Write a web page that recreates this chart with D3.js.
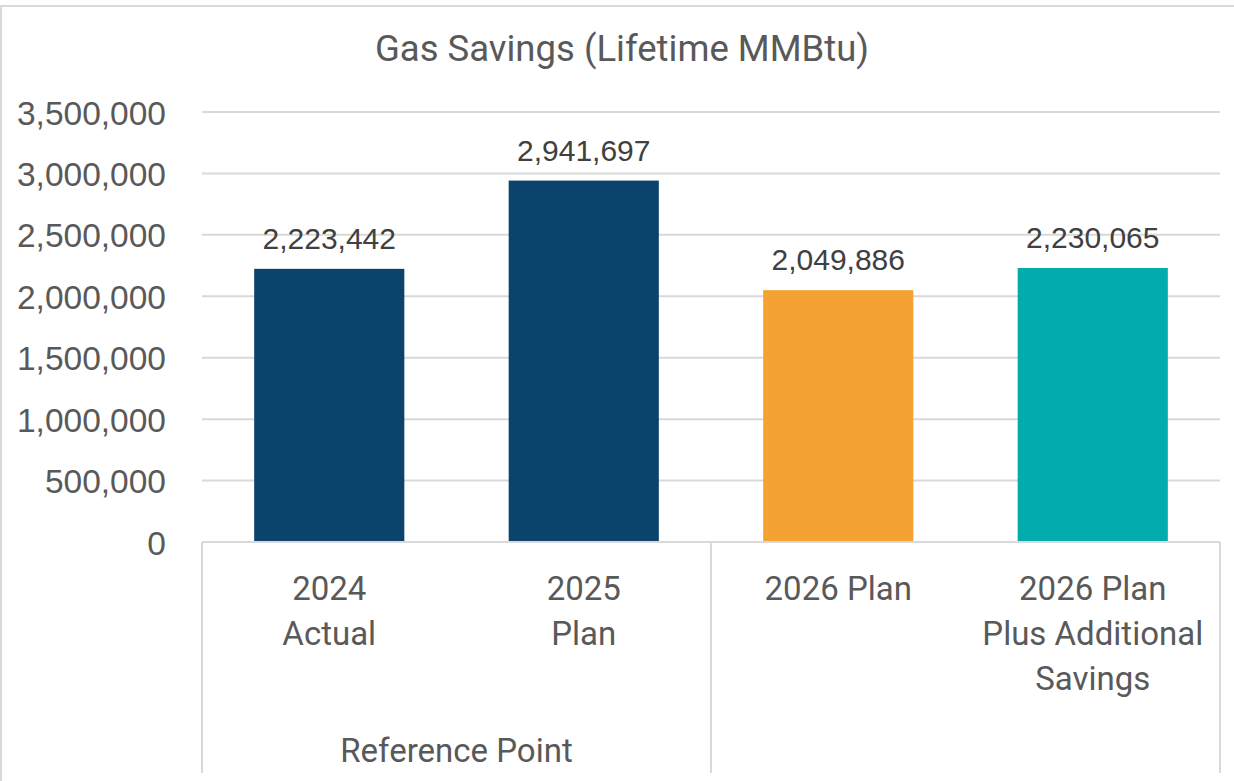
<!DOCTYPE html>
<html>
<head>
<meta charset="utf-8">
<script src="https://cdn.jsdelivr.net/npm/d3@7"></script>
<style>
  html, body { margin: 0; padding: 0; background: #fff; }
  svg { display: block; }
</style>
</head>
<body>
<script>
// chart data
var categories = ["2024 Actual", "2025 Plan", "2026 Plan", "2026 Plan Plus Additional Savings"];
var categoryLines = [["2024", "Actual"], ["2025", "Plan"], ["2026 Plan"], ["2026 Plan", "Plus Additional", "Savings"]];
var values = [2223442, 2941697, 2049886, 2230065];
var barColors = ["#0C436C", "#0C436C", "#F4A233", "#02ACAE"];
var groups = [
  { name: "Reference Point", members: ["2024 Actual", "2025 Plan"] },
  { name: "", members: ["2026 Plan", "2026 Plan Plus Additional Savings"] }
];
var yTicks = [0, 500000, 1000000, 1500000, 2000000, 2500000, 3000000, 3500000];
var title = "Gas Savings (Lifetime MMBtu)";

var width = 1234, height = 781;
var plot = { left: 202, right: 1220, top: 112, bottom: 542 };
var textColor = "#595959", gridColor = "#D9D9D9";
var numFont = "'Liberation Sans', Arial, sans-serif";
var catFont = "Roboto, 'Open Sans', sans-serif";

var svg = d3.select("body").append("svg")
    .attr("width", width)
    .attr("height", height);

// chart area border
svg.append("rect")
    .attr("x", 1).attr("y", 6)
    .attr("width", width + 10).attr("height", height + 10)
    .attr("fill", "#fff")
    .attr("stroke", gridColor)
    .attr("stroke-width", 2);

var x = d3.scaleBand()
    .domain(categories)
    .range([plot.left, plot.right])
    .paddingInner(0.41)
    .paddingOuter(0.205);

var y = d3.scaleLinear()
    .domain([0, 3500000])
    .range([plot.bottom, plot.top]);

// title
svg.append("text")
    .attr("x", 622).attr("y", 61)
    .attr("text-anchor", "middle")
    .attr("font-family", catFont)
    .attr("font-size", 36.5)
    .attr("fill", textColor)
    .text(title);

// gridlines
svg.append("g")
    .selectAll("line")
    .data(yTicks.slice(1))
    .enter().append("line")
    .attr("x1", plot.left).attr("x2", plot.right)
    .attr("y1", function(d) { return y(d); })
    .attr("y2", function(d) { return y(d); })
    .attr("stroke", gridColor)
    .attr("stroke-width", 2);

// y axis labels
var yAxis = d3.axisLeft(y).tickValues(yTicks).tickFormat(d3.format(",")).tickSize(0).tickPadding(36);
var yg = svg.append("g")
    .attr("transform", "translate(" + plot.left + ",0)")
    .call(yAxis);
yg.select(".domain").remove();
yg.selectAll("text")
    .attr("font-family", numFont)
    .attr("font-size", 33.5)
    .attr("fill", textColor)
    .attr("dy", "0.36em");

// bars
svg.append("g")
    .selectAll("rect")
    .data(values)
    .enter().append("rect")
    .attr("x", function(d, i) { return x(categories[i]); })
    .attr("y", function(d) { return y(d); })
    .attr("width", x.bandwidth())
    .attr("height", function(d) { return y(0) - y(d); })
    .attr("fill", function(d, i) { return barColors[i]; });

// data labels
svg.append("g")
    .selectAll("text")
    .data(values)
    .enter().append("text")
    .attr("x", function(d, i) { return x(categories[i]) + x.bandwidth() / 2; })
    .attr("y", function(d) { return y(d) - 20; })
    .attr("text-anchor", "middle")
    .attr("font-family", numFont)
    .attr("font-size", 30)
    .attr("fill", "#404040")
    .text(function(d) { return d3.format(",")(d); });

// category axis (two levels)
var axisBottom = 773;
var step = x.step();
var catAxis = svg.append("g");

catAxis.append("line")
    .attr("x1", plot.left).attr("x2", plot.right)
    .attr("y1", plot.bottom).attr("y2", plot.bottom)
    .attr("stroke", gridColor).attr("stroke-width", 2);

// group dividers
var dividers = [plot.left];
groups.forEach(function(g) {
  var last = g.members[g.members.length - 1];
  dividers.push(x(last) + x.bandwidth() + step * x.paddingInner() / 2);
});
catAxis.selectAll("line.div")
    .data(dividers)
    .enter().append("line")
    .attr("class", "div")
    .attr("x1", function(d) { return d; })
    .attr("x2", function(d) { return d; })
    .attr("y1", plot.bottom).attr("y2", axisBottom)
    .attr("stroke", gridColor).attr("stroke-width", 2);

// inner level labels
catAxis.selectAll("text.cat")
    .data(categories)
    .enter().append("text")
    .attr("class", "cat")
    .attr("text-anchor", "middle")
    .attr("font-family", catFont)
    .attr("font-size", 33)
    .attr("fill", textColor)
    .each(function(d, i) {
      var t = d3.select(this);
      categoryLines[i].forEach(function(line, j) {
        t.append("tspan")
          .attr("x", x(d) + x.bandwidth() / 2)
          .attr("y", 600 + j * 45)
          .text(line);
      });
    });

// outer level labels
catAxis.selectAll("text.grp")
    .data(groups)
    .enter().append("text")
    .attr("class", "grp")
    .attr("text-anchor", "middle")
    .attr("font-family", catFont)
    .attr("font-size", 33)
    .attr("fill", textColor)
    .attr("x", function(g) {
      var a = x(g.members[0]), b = x(g.members[g.members.length - 1]) + x.bandwidth();
      return (a + b) / 2;
    })
    .attr("y", 762)
    .text(function(g) { return g.name; });
</script>
</body>
</html>
